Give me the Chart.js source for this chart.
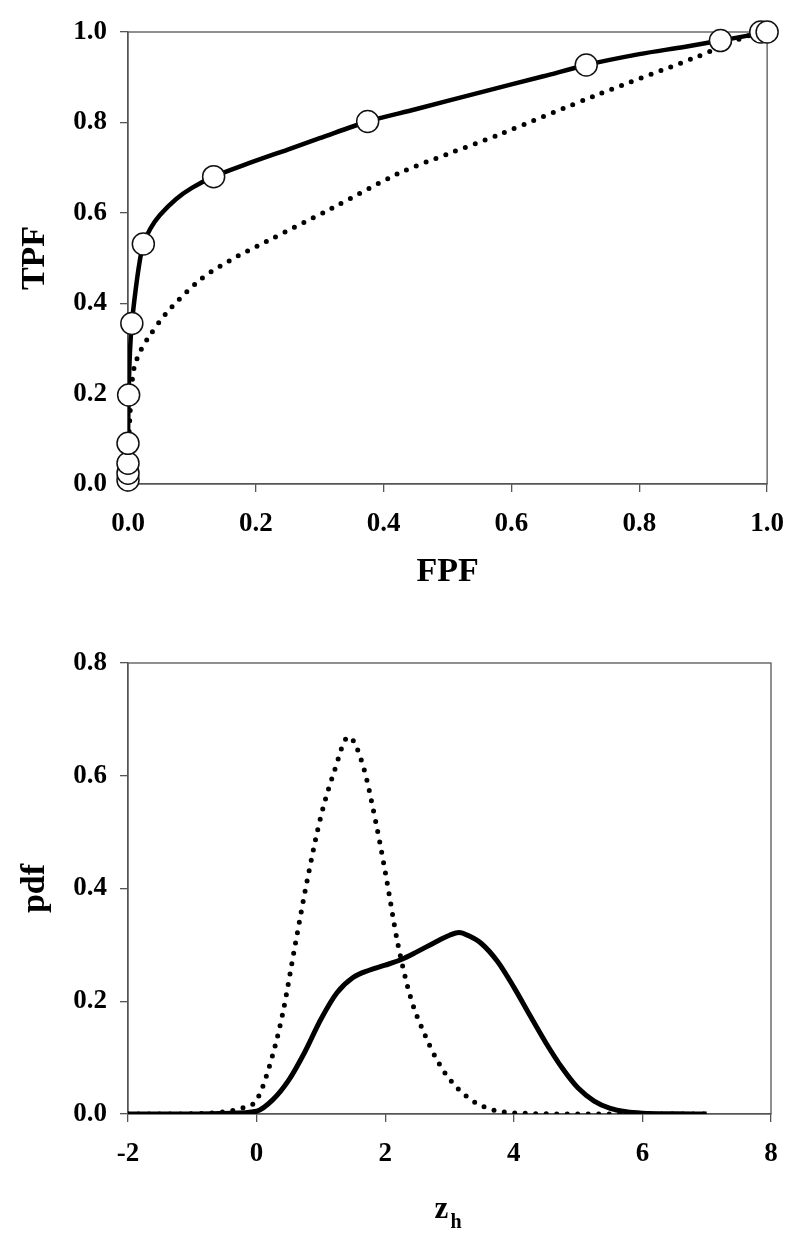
<!DOCTYPE html>
<html>
<head>
<meta charset="utf-8">
<script src="https://cdn.jsdelivr.net/npm/chart.js@4.4.1/dist/chart.umd.min.js"></script>
<style>
  html, body { margin: 0; padding: 0; background: #fff; }
  #wrap { position: relative; width: 800px; height: 1238px; }
  canvas { position: absolute; left: 0; }
  #roc { top: 0; }
  #pdf { top: 620px; }
</style>
</head>
<body>
<div id="wrap">
  <canvas id="roc" width="800" height="620"></canvas>
  <canvas id="pdf" width="800" height="618"></canvas>
</div>
<script>
// --- top panel: ROC ---
const opFPF = [0, 0, 0, 0, 0.001, 0.006, 0.024, 0.134, 0.375, 0.717, 0.927, 0.99, 1.0];
const opTPF = [0.009, 0.024, 0.046, 0.09, 0.197, 0.355, 0.531, 0.68, 0.802, 0.927, 0.981, 1.0, 1.0];

const fitFPF = [0, 0, 0.001, 0.003, 0.006, 0.012, 0.018, 0.024, 0.035, 0.05, 0.075, 0.1, 0.134, 0.18, 0.25, 0.3, 0.375, 0.45, 0.55, 0.65, 0.717, 0.8, 0.87, 0.927, 0.97, 1.0];
const fitTPF = [0, 0.09, 0.197, 0.29, 0.355, 0.43, 0.49, 0.531, 0.565, 0.595, 0.63, 0.655, 0.68, 0.705, 0.74, 0.765, 0.802, 0.829, 0.866, 0.902, 0.927, 0.951, 0.967, 0.981, 0.992, 1.0];

const refFPF = [0, 0.001, 0.003, 0.006, 0.01, 0.018, 0.03, 0.06, 0.112, 0.16, 0.216, 0.319, 0.423, 0.5, 0.579, 0.734, 0.89, 0.967, 1.0];
const refTPF = [0, 0.09, 0.15, 0.22, 0.26, 0.29, 0.32, 0.378, 0.451, 0.495, 0.536, 0.61, 0.687, 0.73, 0.772, 0.861, 0.945, 0.99, 1.0];

const fpfTicks = [0, 0.2, 0.4, 0.6, 0.8, 1.0];
const tpfTicks = [0, 0.2, 0.4, 0.6, 0.8, 1.0];

// --- bottom panel: pdf vs z_h ---
const zDot = [-2, -1.5, -1, -0.5, -0.25, 0, 0.2, 0.4, 0.6, 0.8, 1.0, 1.2, 1.43, 1.65, 1.85, 2.0, 2.2, 2.4, 2.6, 2.8, 3.0, 3.3, 3.6, 4.0, 5.0, 6.0, 7.0];
const pdfDot = [0, 0, 0.0005, 0.004, 0.01, 0.025, 0.085, 0.175, 0.3, 0.422, 0.528, 0.605, 0.669, 0.62, 0.52, 0.43, 0.3, 0.205, 0.145, 0.097, 0.062, 0.028, 0.01, 0.002, 0, 0, 0];

const zSolid = [-2, -1, -0.5, 0, 0.25, 0.5, 0.75, 1.0, 1.25, 1.5, 1.75, 2.0, 2.25, 2.5, 2.75, 3.0, 3.15, 3.3, 3.5, 3.75, 4.0, 4.25, 4.5, 4.75, 5.0, 5.25, 5.5, 5.75, 6.0, 6.5, 7.0];
const pdfSolid = [0, 0, 0.001, 0.005, 0.025, 0.06, 0.11, 0.168, 0.215, 0.242, 0.255, 0.264, 0.274, 0.288, 0.303, 0.317, 0.322, 0.316, 0.302, 0.27, 0.225, 0.175, 0.126, 0.082, 0.046, 0.023, 0.01, 0.004, 0.0015, 0.0003, 0];

const zTicks = [-2, 0, 2, 4, 6, 8];
const pdfTicks = [0, 0.2, 0.4, 0.6, 0.8];

const axisColor = '#555';
const fontFamily = '"Liberation Serif", "Times New Roman", serif';
const tickFont = { family: fontFamily, size: 27, weight: 'bold' };
const titleFont = { family: fontFamily, size: 34, weight: 'bold' };

const xy = (xs, ys) => xs.map((x, i) => ({ x: x, y: ys[i] }));

// box around the plot area, drawn under the markers
const frame = {
  id: 'frame',
  beforeDatasetsDraw(chart) {
    const { ctx, chartArea: a } = chart;
    ctx.save();
    ctx.strokeStyle = axisColor;
    ctx.lineWidth = 1.3;
    ctx.strokeRect(a.left, a.top, a.right - a.left, a.bottom - a.top);
    ctx.restore();
  }
};

// "z" with subscript "h" under the bottom x axis
const zLabel = {
  id: 'zLabel',
  afterDraw(chart) {
    const { ctx } = chart;
    const sx = chart.scales.x;
    const cx = (sx.left + sx.right) / 2;
    ctx.save();
    ctx.fillStyle = '#000';
    ctx.textBaseline = 'alphabetic';
    ctx.textAlign = 'left';
    ctx.font = 'bold 31px ' + fontFamily;
    ctx.fillText('z', cx - 15, 598);
    ctx.font = 'bold 20px ' + fontFamily;
    ctx.fillText('h', cx + 1, 608);
    ctx.restore();
  }
};

function scaleX(min, max, ticks, fmt, height, title) {
  return {
    type: 'linear', min: min, max: max,
    afterBuildTicks: s => { s.ticks = ticks.map(v => ({ value: v })); },
    afterFit: s => { s.height = height; },
    ticks: { font: tickFont, color: '#000', padding: 16, maxRotation: 0, autoSkip: false, callback: fmt },
    grid: { drawOnChartArea: false, drawTicks: true, tickLength: 8, color: axisColor, lineWidth: 1.3 },
    border: { color: axisColor, width: 1.3 },
    title: title
      ? { display: true, text: title, font: titleFont, color: '#000', padding: { top: 0, bottom: 1 } }
      : { display: false }
  };
}

function scaleY(min, max, ticks, title) {
  return {
    type: 'linear', min: min, max: max,
    afterBuildTicks: s => { s.ticks = ticks.map(v => ({ value: v })); },
    afterFit: s => { s.width = 128; },
    ticks: { font: tickFont, color: '#000', padding: 13, autoSkip: false, callback: v => v.toFixed(1) },
    grid: { drawOnChartArea: false, drawTicks: true, tickLength: 8, color: axisColor, lineWidth: 1.3 },
    border: { color: axisColor, width: 1.3 },
    title: { display: true, text: title, font: titleFont, color: '#000', padding: { top: 14.6, bottom: 0 } }
  };
}

const common = {
  responsive: false,
  animation: false,
  events: [],
  plugins: { legend: { display: false }, tooltip: { enabled: false } }
};

new Chart(document.getElementById('roc'), {
  type: 'scatter',
  data: {
    datasets: [
      {
        data: xy(opFPF, opTPF), showLine: false, clip: false,
        pointRadius: 11, pointBackgroundColor: '#fff', pointBorderColor: '#111', pointBorderWidth: 1.5
      },
      {
        data: xy(fitFPF, fitTPF), showLine: true, pointRadius: 0,
        borderColor: '#000', borderWidth: 4.5, tension: 0.3
      },
      {
        data: xy(refFPF, refTPF), showLine: true, pointRadius: 0,
        borderColor: '#000', borderWidth: 5, borderDash: [0, 10.5], borderCapStyle: 'round', tension: 0.3
      }
    ]
  },
  options: Object.assign({}, common, {
    layout: { padding: { top: 32, right: 29, bottom: 26, left: 0 } },
    scales: {
      x: scaleX(0, 1, fpfTicks, v => v.toFixed(1), 110, 'FPF'),
      y: scaleY(0, 1, tpfTicks, 'TPF')
    }
  }),
  plugins: [frame]
});

new Chart(document.getElementById('pdf'), {
  type: 'scatter',
  data: {
    datasets: [
      {
        data: xy(zSolid, pdfSolid), showLine: true, pointRadius: 0,
        borderColor: '#000', borderWidth: 5, cubicInterpolationMode: 'monotone'
      },
      {
        data: xy(zDot, pdfDot), showLine: true, pointRadius: 0,
        borderColor: '#000', borderWidth: 5, borderDash: [0, 10.5], borderCapStyle: 'round',
        cubicInterpolationMode: 'monotone'
      }
    ]
  },
  options: Object.assign({}, common, {
    layout: { padding: { top: 43, right: 29, bottom: 0, left: 0 } },
    scales: {
      x: scaleX(-2, 8, zTicks, v => String(v), 124, null),
      y: scaleY(0, 0.8, pdfTicks, 'pdf')
    }
  }),
  plugins: [frame, zLabel]
});
</script>
</body>
</html>
